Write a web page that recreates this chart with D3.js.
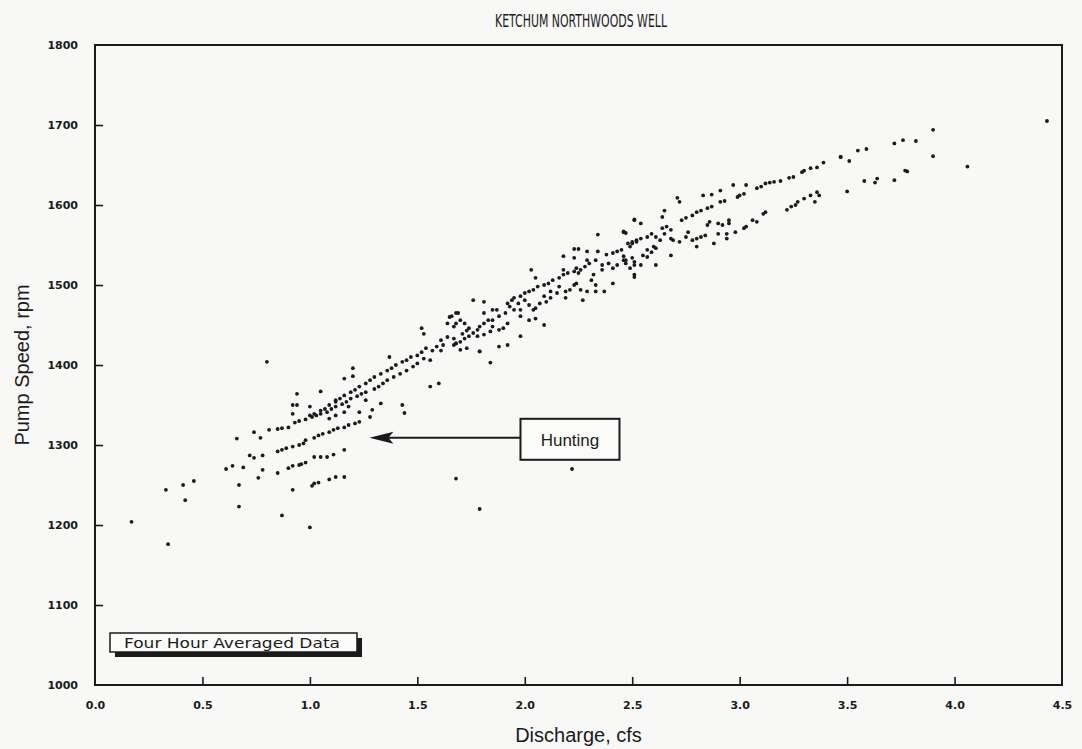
<!DOCTYPE html>
<html><head><meta charset="utf-8">
<script src="https://cdn.jsdelivr.net/npm/d3@7"></script>
<style>
body{margin:0;background:#f9f9f8;}
svg{display:block;}
</style>
</head><body>
<svg id="chart" width="1082" height="749"></svg>
<script>
// ---------- text ----------
const chartTitle = "KETCHUM NORTHWOODS WELL";
const xTitle = "Discharge, cfs";
const yTitle = "Pump Speed, rpm";
const legendLabel = "Four Hour Averaged Data";
const annotationLabel = "Hunting";

// ---------- axes ----------
const xDomain = [0, 4.5];
const yDomain = [1000, 1800];
const xTickValues = [0, 0.5, 1.0, 1.5, 2.0, 2.5, 3.0, 3.5, 4.0, 4.5];
const yTickValues = [1000, 1100, 1200, 1300, 1400, 1500, 1600, 1700, 1800];

// ---------- data: [discharge cfs, pump speed rpm] ----------
const lowFlowPoints = [
  [0.17,1204],[0.34,1176],[0.33,1244],[0.41,1250],[0.42,1231],[0.46,1255],
  [0.61,1270],[0.64,1274],[0.69,1272],[0.67,1250],[0.67,1223],[0.66,1308]
];
const huntingPoints = [
  [0.74,1316],[0.77,1309],[0.81,1319],[0.85,1320],[0.87,1321],[0.90,1322],[0.93,1328],[0.95,1330],[0.98,1332],[1.01,1335],
  [0.72,1287],[0.74,1284],[0.78,1287],[0.85,1292],[0.87,1294],[0.89,1296],[0.92,1298],[0.95,1300],[0.97,1302],[0.98,1306],
  [1.02,1309],[1.04,1312],[1.06,1314],[1.09,1316],[1.11,1319],[1.13,1321],[1.16,1322],[1.18,1325],[1.21,1327],[1.23,1329],
  [0.76,1259],[0.78,1269],[0.85,1265],[0.90,1271],[0.92,1274],[0.95,1275],[0.96,1276],[0.98,1278],[1.02,1285],[1.05,1285],
  [1.08,1285],[1.11,1288],[1.16,1294],
  [1.01,1249],[1.02,1252],[1.04,1253],[1.09,1257],[1.12,1260],[1.16,1260]
];
const scatteredPoints = [
  [0.80,1404],[0.87,1212],[1.00,1197],[0.92,1244],[0.94,1364],[0.94,1350],[1.05,1367],[1.12,1356],[1.43,1350],[1.44,1340],
  [1.29,1344],[1.33,1352],[1.56,1373],[1.60,1377],[1.68,1258],[1.20,1396],[1.16,1383],[1.20,1386],[1.37,1410],[1.79,1220],
  [2.22,1270],[1.84,1403],[1.79,1417],
  [1.26,1356],[1.28,1335],[1.23,1341],[1.18,1348],[1.16,1341],[1.12,1337],[1.09,1333],[1.00,1348],[0.92,1350],[0.92,1339]
];
const midBandPoints = [
  [1.65,1460],[1.69,1465],[1.64,1452],[1.68,1452],[1.52,1446],[1.53,1439],[1.61,1431],[1.64,1435],[1.67,1433],[1.68,1427],
  [1.71,1439],[1.73,1443],[1.62,1425],[1.59,1423],[1.57,1418],[1.54,1421],[1.52,1416],[1.50,1412],[1.47,1410],[1.45,1406],
  [1.43,1404],[1.40,1400],[1.38,1396],[1.36,1393],[1.33,1389],[1.30,1385],[1.28,1381],[1.26,1377],[1.23,1373],[1.21,1369],
  [1.19,1366],[1.16,1362],[1.14,1358],[1.12,1354],[1.09,1350],[1.07,1345],[1.05,1343],[1.02,1339],[1.00,1337],
  [1.61,1418],[1.56,1406],[1.53,1408],[1.50,1402],[1.48,1398],[1.45,1393],[1.42,1389],[1.39,1385],[1.36,1381],[1.34,1377],
  [1.32,1373],[1.30,1370],[1.26,1366],[1.24,1364],[1.22,1361],[1.19,1358],[1.17,1354],[1.15,1351],[1.12,1348],[1.10,1345],
  [1.08,1341],[1.05,1339],[1.03,1337]
];
const denseBandPoints = [
  [2.51,1582],[2.46,1567],[2.47,1565],[2.34,1563],[2.50,1552],[2.52,1554],[2.49,1548],[2.45,1544],[2.43,1542],[2.41,1540],
  [2.46,1536],[2.47,1531],[2.50,1534],[2.51,1529],[2.43,1525],[2.41,1521],[2.39,1527],[2.38,1538],[2.34,1542],[2.29,1542],
  [2.25,1545],[2.23,1545],[2.33,1531],[2.36,1525],[2.36,1519],[2.30,1527],[2.28,1523],[2.26,1519],[2.25,1515],[2.23,1517],
  [2.20,1515],[2.18,1513],[2.16,1509],[2.13,1506],[2.11,1502],[2.09,1500],[2.06,1498],[2.04,1494],[2.02,1492],[2.00,1490],
  [1.98,1486],[1.95,1484],[1.94,1481],[1.92,1477],[2.03,1519],[2.05,1509],[2.18,1536],[2.23,1534],[2.29,1531],[2.32,1513],
  [2.31,1506],[2.33,1500],[2.33,1492],[2.37,1492],[2.41,1502],[2.51,1513],[2.23,1500],[2.24,1502],[2.21,1494],[2.19,1492],
  [2.16,1498],[2.15,1490],[2.12,1492],[2.12,1484],[2.10,1479],[2.09,1486],[2.07,1477],[2.05,1471],[2.04,1469],[2.02,1475],
  [2.00,1481],[1.98,1469],[1.98,1461],[1.95,1469],[1.97,1477],[1.93,1473],[1.91,1465],[1.88,1461],[1.87,1469],[1.85,1456],
  [1.83,1456],[1.81,1452],[1.79,1448],[1.78,1444],[1.76,1440],[1.74,1436],[1.72,1433],[1.70,1429],[1.68,1427],[1.67,1425],
  [1.92,1452],[1.90,1446],[1.88,1444],[1.85,1448],[1.84,1442],[1.81,1438],[1.78,1436],[1.74,1446],[1.72,1452],[1.70,1456],
  [1.67,1448],[1.66,1461],[1.68,1465],[1.76,1481],[1.81,1479],[1.85,1469],[1.88,1423],[1.92,1425],[1.98,1436],[2.02,1456],
  [2.09,1450],[2.05,1458],[2.27,1481],[2.26,1494],[2.29,1492],[2.19,1484],[1.73,1421],[1.79,1417],[1.70,1419],[1.81,1465],
  [2.18,1519],[2.24,1521]
];
const upperBandPoints = [
  [3.29,1641],[3.30,1643],[3.33,1646],[3.36,1647],[3.25,1635],[3.23,1634],[3.19,1630],[3.16,1629],[3.14,1628],[3.12,1627],
  [3.10,1623],[3.08,1621],[3.03,1625],[3.02,1614],[3.00,1612],[2.99,1610],[2.97,1625],[2.91,1618],[2.93,1605],[2.91,1604],
  [2.87,1613],[2.83,1612],[2.87,1598],[2.85,1596],[2.82,1593],[2.80,1591],[2.78,1587],[2.75,1584],[2.73,1581],[2.72,1604],
  [2.71,1609],[2.65,1593],[2.64,1585],[2.61,1560],[2.59,1564],[2.57,1560],[2.54,1558],[2.52,1556],[2.50,1554],[2.48,1552],
  [2.46,1566],[2.51,1581],[2.54,1577]
];
const lowerBandPoints = [
  [3.36,1616],[3.33,1612],[3.30,1608],[3.27,1604],[3.26,1600],[3.24,1598],[3.22,1594],[3.12,1591],[3.11,1589],[3.06,1581],
  [3.08,1579],[3.03,1573],[3.02,1571],[2.98,1566],[2.95,1581],[2.95,1577],[2.92,1575],[2.90,1577],[2.86,1579],[2.85,1575],
  [2.84,1562],[2.82,1560],[2.80,1558],[2.78,1556],[2.76,1566],[2.75,1560],[2.72,1554],[2.69,1556],[2.68,1558],[2.68,1569],
  [2.66,1573],[2.65,1564],[2.64,1571],[2.63,1556],[2.61,1546],[2.60,1548],[2.59,1541],[2.57,1535],[2.57,1544],[2.55,1537],
  [2.54,1525],[2.51,1525],[2.49,1521],[2.47,1527],[2.46,1531],[2.51,1510],[2.68,1537],[2.61,1525],[2.88,1552],[2.80,1548],
  [2.94,1558],[2.94,1564],[2.90,1564],[3.37,1612],[3.35,1604]
];
const highFlowPoints = [
  [4.43,1705],[4.06,1648],[3.90,1694],[3.90,1661],[3.82,1680],[3.76,1681],[3.72,1677],[3.78,1642],[3.77,1643],[3.72,1631],
  [3.64,1633],[3.63,1628],[3.58,1630],[3.59,1670],[3.55,1668],[3.51,1655],[3.47,1660],[3.47,1660],[3.50,1617],[3.39,1653]
];

const allPoints = [].concat(lowFlowPoints, huntingPoints, scatteredPoints, midBandPoints,
  denseBandPoints, upperBandPoints, lowerBandPoints, highFlowPoints);

// ---------- layout ----------
const W = 1082, H = 749;
const margin = {left: 95, right: 20, top: 45, bottom: 64};
const svg = d3.select("#chart");
const x = d3.scaleLinear().domain(xDomain).range([margin.left, W - margin.right]);
const y = d3.scaleLinear().domain(yDomain).range([H - margin.bottom, margin.top]);
const ink = "#1b1b1b";
const labelFont = "'DejaVu Sans', 'Noto Sans', sans-serif";

svg.append("rect").attr("width", W).attr("height", H).attr("fill", "#f8f8f7");

// frame
svg.append("rect")
  .attr("x", x(xDomain[0])).attr("y", y(yDomain[1]))
  .attr("width", x(xDomain[1]) - x(xDomain[0]))
  .attr("height", y(yDomain[0]) - y(yDomain[1]))
  .attr("fill", "none").attr("stroke", ink).attr("stroke-width", 2);

// axes (inward ticks)
const xAxis = d3.axisBottom(x).tickValues(xTickValues).tickFormat(d3.format(".1f"))
  .tickSizeInner(-8).tickSizeOuter(0).tickPadding(16);
const gx = svg.append("g").attr("transform", `translate(0,${y(yDomain[0])})`).call(xAxis);
const yAxis = d3.axisLeft(y).tickValues(yTickValues).tickFormat(d3.format("d"))
  .tickSizeInner(-8).tickSizeOuter(0).tickPadding(17);
const gy = svg.append("g").attr("transform", `translate(${x(xDomain[0])},0)`).call(yAxis);
[gx, gy].forEach(g => {
  g.select(".domain").remove();
  g.selectAll(".tick line").attr("stroke", ink).attr("stroke-width", 1.6);
  g.selectAll(".tick text").attr("fill", ink)
    .style("font-family", labelFont).style("font-size", "11px").style("font-weight", "bold");
});
gx.selectAll(".tick").filter(d => d === xDomain[0] || d === xDomain[1]).select("line").remove();
gy.selectAll(".tick").filter(d => d === yDomain[0] || d === yDomain[1]).select("line").remove();

// points
svg.append("g").selectAll("circle").data(allPoints).join("circle")
  .attr("cx", d => x(d[0])).attr("cy", d => y(d[1]))
  .attr("r", 1.9).attr("fill", ink);

// title
svg.append("text").attr("x", 581).attr("y", 27).attr("text-anchor", "middle")
  .attr("fill", ink)
  .attr("textLength", 172).attr("lengthAdjust", "spacingAndGlyphs")
  .style("font-family", "'DejaVu Sans Condensed', 'DejaVu Sans', sans-serif").style("font-size", "17px")
  .text(chartTitle);

// axis titles
svg.append("text").attr("x", (x(xDomain[0]) + x(xDomain[1])) / 2).attr("y", 742)
  .attr("text-anchor", "middle").attr("fill", ink)
  .style("font-family", "'Liberation Sans', Arial, sans-serif").style("font-size", "20px")
  .text(xTitle);
svg.append("text")
  .attr("transform", `translate(29,${(y(yDomain[0]) + y(yDomain[1])) / 2}) rotate(-90)`)
  .attr("text-anchor", "middle").attr("fill", ink)
  .style("font-family", "'Liberation Sans', Arial, sans-serif").style("font-size", "20px")
  .text(yTitle);

// legend box with shadow
const lg = svg.append("g").attr("transform", `translate(${x(xDomain[0]) + 15},${y(yDomain[0]) - 52})`);
lg.append("rect").attr("x", 5).attr("y", 5).attr("width", 247).attr("height", 19).attr("fill", ink);
lg.append("rect").attr("x", 0).attr("y", 0).attr("width", 247).attr("height", 19)
  .attr("fill", "#fbfbfa").attr("stroke", ink).attr("stroke-width", 1.5);
lg.append("text").attr("x", 14).attr("y", 14.5).attr("fill", ink)
  .attr("textLength", 216).attr("lengthAdjust", "spacingAndGlyphs")
  .style("font-family", "'DejaVu Sans', sans-serif").style("font-size", "13.5px")
  .text(legendLabel);

// Hunting annotation
const tipX = x(1.277), tipY = y(1309);
const boxX = x(1.98), boxW = 99, boxH = 41, boxY = tipY - 19;
svg.append("line").attr("x1", tipX + 18).attr("y1", tipY).attr("x2", boxX).attr("y2", tipY)
  .attr("stroke", ink).attr("stroke-width", 2);
svg.append("path")
  .attr("d", `M${tipX},${tipY} L${tipX + 24},${tipY - 6} L${tipX + 19},${tipY} L${tipX + 24},${tipY + 6} Z`)
  .attr("fill", ink);
svg.append("rect").attr("x", boxX).attr("y", boxY).attr("width", boxW).attr("height", boxH)
  .attr("fill", "#fbfbfa").attr("stroke", ink).attr("stroke-width", 2);
svg.append("text").attr("x", boxX + boxW / 2).attr("y", boxY + 27).attr("text-anchor", "middle")
  .attr("fill", ink)
  .style("font-family", "'Liberation Sans', Arial, sans-serif").style("font-size", "17px")
  .text(annotationLabel);
</script>
</body></html>
